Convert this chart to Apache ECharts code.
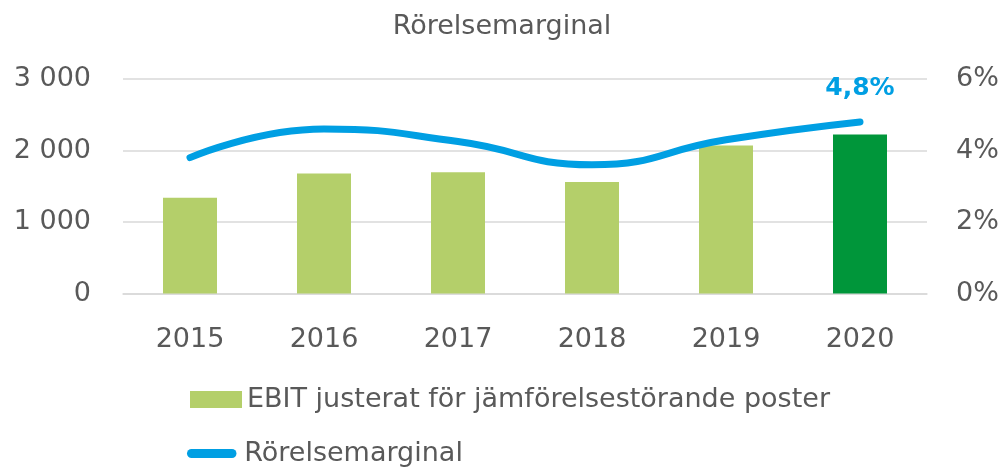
<!DOCTYPE html>
<html>
<head>
<meta charset="utf-8">
<script src="https://cdn.jsdelivr.net/npm/echarts@6/dist/echarts.min.js"></script>
<style>
  html, body { margin: 0; padding: 0; background: #fff; }
  #chart { width: 1004px; height: 468px; }
</style>
</head>
<body>
<div id="chart"></div>
<script>
const categories = ['2015', '2016', '2017', '2018', '2019', '2020'];
const ebitValues = [1340, 1680, 1695, 1560, 2070, 2225];
const marginValues = [3.8, 4.6, 4.25, 3.6, 4.3, 4.8];
const leftTicks = { min: 0, max: 3000, interval: 1000 };
const rightTicks = { min: 0, max: 6, interval: 2 };
const barName = 'EBIT justerat för jämförelsestörande poster';
const lineName = 'Rörelsemarginal';
const titleText = 'Rörelsemarginal';

const FONT = 'DejaVu Sans';
const TEXT = '#595959';
const LIGHT = '#B4CF6A';
const DARK = '#00963A';
const BLUE = '#009FE3';

const chart = echarts.init(document.getElementById('chart'));
const lastIdx = categories.length - 1;

chart.setOption({
  animation: false,
  textStyle: { fontFamily: FONT },
  title: {
    text: titleText,
    left: 'center',
    top: 8,
    textStyle: { fontFamily: FONT, fontSize: 27, fontWeight: 'normal', color: TEXT }
  },
  grid: { left: 123, right: 77, top: 79, bottom: 174.5, containLabel: false },
  legend: [
    {
      data: [{ name: barName, icon: 'rect', itemStyle: { color: LIGHT } }],
      orient: 'vertical',
      left: 185,
      top: 381,
      itemWidth: 52,
      itemHeight: 17,
      textStyle: { fontFamily: FONT, fontSize: 27, color: TEXT }
    },
    {
      data: [{ name: lineName, icon: 'path://M5,0 H50 A5,5 0 0 1 50,10 H5 A5,5 0 0 1 5,0 Z', itemStyle: { color: BLUE } }],
      orient: 'vertical',
      left: 182,
      top: 435,
      itemWidth: 55,
      itemHeight: 9,
      textStyle: { fontFamily: FONT, fontSize: 27, color: TEXT }
    }
  ],
  xAxis: {
    type: 'category',
    data: categories,
    axisLine: { show: true, lineStyle: { color: '#D9D9D9', width: 1.5 } },
    axisTick: { show: false },
    axisLabel: { color: TEXT, fontSize: 27, fontFamily: FONT, margin: 33 }
  },
  yAxis: [
    {
      type: 'value',
      min: leftTicks.min, max: leftTicks.max, interval: leftTicks.interval,
      axisLine: { show: false },
      axisTick: { show: false },
      splitLine: { lineStyle: { color: '#D9D9D9', width: 1.5 } },
      axisLabel: {
        color: TEXT, fontSize: 27, fontFamily: FONT, margin: 32,
        formatter: v => String(v).replace(/\B(?=(\d{3})+(?!\d))/g, ' ')
      }
    },
    {
      type: 'value',
      min: rightTicks.min, max: rightTicks.max, interval: rightTicks.interval,
      axisLine: { show: false },
      axisTick: { show: false },
      splitLine: { show: false },
      axisLabel: { color: TEXT, fontSize: 27, fontFamily: FONT, margin: 29, formatter: '{value}%' }
    }
  ],
  series: [
    {
      name: barName,
      type: 'bar',
      yAxisIndex: 0,
      barWidth: 54,
      data: ebitValues,
      itemStyle: { color: p => p.dataIndex === lastIdx ? DARK : LIGHT }
    },
    {
      name: lineName,
      type: 'line',
      yAxisIndex: 1,
      smooth: 0.5,
      symbol: 'circle',
      symbolSize: 0,
      showSymbol: true,
      lineStyle: { color: BLUE, width: 7, cap: 'round' },
      itemStyle: { color: BLUE },
      labelLayout: { hideOverlap: false },
      data: marginValues.map((v, i) => i === lastIdx ? {
        value: v,
        label: {
          show: true, position: 'top', distance: 21,
          formatter: p => String(p.value).replace('.', ',') + '%',
          color: BLUE, fontSize: 25, fontWeight: 'bold', fontFamily: FONT
        }
      } : v)
    }
  ]
});
</script>
</body>
</html>
